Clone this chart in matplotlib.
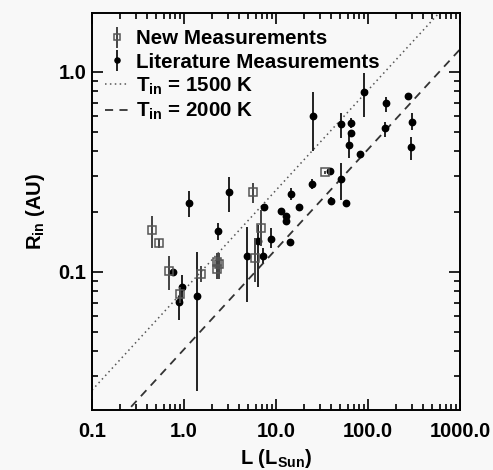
import matplotlib
matplotlib.use('Agg')
import matplotlib.pyplot as plt
import numpy as np
from matplotlib.ticker import FixedLocator, FuncFormatter, LogLocator, NullFormatter

plt.rcParams['font.family'] = ['Liberation Sans', 'DejaVu Sans']
plt.rcParams['font.weight'] = 'bold'
plt.rcParams['mathtext.fontset'] = 'custom'
plt.rcParams['mathtext.rm'] = 'Liberation Sans:bold'
plt.rcParams['mathtext.it'] = 'Liberation Sans:bold'
plt.rcParams['mathtext.bf'] = 'Liberation Sans:bold'

# new measurements (open squares)
new_L = [0.449, 0.539, 0.692, 0.905, 1.53, 2.28, 2.42, 2.26, 5.67, 6.79, 5.91, 34.5]
new_R = [0.162, 0.139, 0.101, 0.0776, 0.0977, 0.112, 0.110, 0.104, 0.250, 0.165, 0.118, 0.315]
new_lo = [0.132, 0.131, 0.081, 0.070, 0.089, 0.092, 0.092, 0.092, 0.221, 0.134, 0.089, 0.31]
new_hi = [0.191, 0.146, 0.120, 0.0845, 0.107, 0.125, 0.125, 0.125, 0.278, 0.204, 0.148, 0.32]

# literature measurements (filled circles)
lit_L = [1.13, 0.766, 0.955, 0.875, 1.39, 2.32, 3.11, 7.46, 6.34, 4.88,
         7.28, 8.75, 11.3, 12.7, 12.9, 14.2, 14.5, 17.7, 24.9, 38.6,
         50.9, 39.9, 57.4, 25.1, 50.9, 64.9, 64.9, 62.6, 82.4, 89.8,
         155.7, 152.0, 270.0, 298.5, 293.0]
lit_R = [0.222, 0.0997, 0.0839, 0.0705, 0.0759, 0.161, 0.251, 0.211, 0.143, 0.120,
         0.120, 0.146, 0.201, 0.1905, 0.1805, 0.141, 0.245, 0.211, 0.275, 0.320,
         0.291, 0.226, 0.221, 0.603, 0.548, 0.554, 0.497, 0.432, 0.390, 0.797,
         0.697, 0.523, 0.761, 0.564, 0.420]
lit_lo = [0.189, 0.0997, 0.0710, 0.0575, 0.0254, 0.1445, 0.200, 0.211, 0.0841, 0.071,
          0.1105, 0.1314, 0.201, 0.1905, 0.172, 0.141, 0.229, 0.211, 0.260, 0.320,
          0.230, 0.216, 0.221, 0.404, 0.466, 0.525, 0.497, 0.370, 0.390, 0.5975,
          0.633, 0.4716, 0.761, 0.513, 0.363]
lit_hi = [0.255, 0.0997, 0.0966, 0.0759, 0.126, 0.1764, 0.2996, 0.211, 0.172, 0.1684,
          0.1318, 0.1654, 0.201, 0.1905, 0.189, 0.141, 0.263, 0.211, 0.2917, 0.320,
          0.3497, 0.2378, 0.221, 0.797, 0.626, 0.590, 0.497, 0.484, 0.390, 0.985,
          0.752, 0.564, 0.761, 0.6215, 0.475]

# R_in = a * sqrt(L) for the two dust sublimation temperatures
coef_1500 = 0.081
coef_2000 = 0.041

fig = plt.figure(figsize=(4.93, 4.70), dpi=100)
fig.patch.set_facecolor('#f8f8f8')
ax = fig.add_axes([0.1866, 0.1277, 0.7464, 0.8446])
ax.set_facecolor('#f8f8f8')

Lgrid = np.logspace(-1, 3, 200)
l1, = ax.plot(Lgrid, coef_1500 * np.sqrt(Lgrid), color='#555555', lw=1.1,
              linestyle=(0, (1, 2.2)))
l2, = ax.plot(Lgrid, coef_2000 * np.sqrt(Lgrid), color='#333333', lw=1.3,
              linestyle=(0, (4.5, 3.5)))

new_R = np.array(new_R)
lit_R = np.array(lit_R)
e_new = [new_R - np.array(new_lo), np.array(new_hi) - new_R]
e_lit = [lit_R - np.array(lit_lo), np.array(lit_hi) - lit_R]

h_lit = ax.errorbar(lit_L, lit_R, yerr=e_lit, fmt='o', color='black', ms=4.6,
                    ecolor='#222222', elinewidth=1.4, capsize=0, zorder=4)
h_new = ax.errorbar(new_L, new_R, yerr=e_new, fmt='s', mfc='none', mec='#555555',
                    mew=1.1, ms=5.3, ecolor='#444444', elinewidth=1.4, capsize=0,
                    zorder=5)

ax.set_xscale('log')
ax.set_yscale('log')
ax.set_xlim(0.1, 1000)
ax.set_ylim(0.0204, 1.97)

fmt = FuncFormatter(lambda v, p: '%.1f' % v)
ax.xaxis.set_major_locator(FixedLocator([0.1, 1, 10, 100, 1000]))
ax.xaxis.set_major_formatter(fmt)
ax.yaxis.set_major_locator(FixedLocator([0.1, 1.0]))
ax.yaxis.set_major_formatter(fmt)
ax.xaxis.set_minor_locator(LogLocator(base=10, subs=np.arange(2, 10)))
ax.yaxis.set_minor_locator(LogLocator(base=10, subs=np.arange(2, 10)))
ax.xaxis.set_minor_formatter(NullFormatter())
ax.yaxis.set_minor_formatter(NullFormatter())

ax.tick_params(which='both', direction='in', top=True, right=True, width=1.2,
               labelsize=14.5)
ax.tick_params(axis='x', pad=9)
ax.tick_params(axis='y', pad=4)
ax.tick_params(which='major', length=8)
ax.tick_params(which='minor', length=4)
for s in ax.spines.values():
    s.set_linewidth(1.4)

ax.set_xlabel(r'L (L$_{\mathrm{Sun}}$)', fontsize=14.5, fontweight='bold', labelpad=4)
ax.set_ylabel(r'R$_{\mathrm{in}}$ (AU)', fontsize=14.5, fontweight='bold', labelpad=8)

leg = ax.legend([h_new, h_lit, l1, l2],
                ['New Measurements', 'Literature Measurements',
                 r'T$_{\mathrm{in}}$ = 1500 K', r'T$_{\mathrm{in}}$ = 2000 K'],
                loc='upper left', frameon=False, fontsize=14.8,
                handlelength=1.2, handletextpad=0.3, labelspacing=0.2,
                borderaxespad=0.4, markerscale=0.8)
leg.set_bbox_to_anchor((-0.01, 1.0), transform=ax.transAxes)

fig.savefig('out.png', dpi=100, facecolor=fig.get_facecolor())
